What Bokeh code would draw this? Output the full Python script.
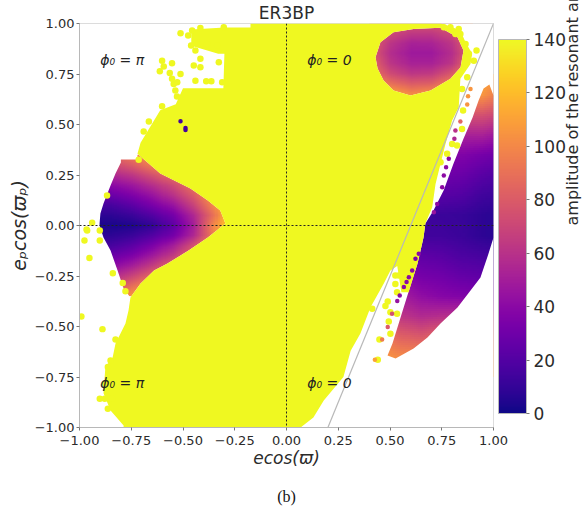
import numpy as np
from bokeh.plotting import figure
from bokeh.embed import file_html
from bokeh.resources import INLINE
from bokeh.models import (LinearColorMapper, ColorBar, FixedTicker, Range1d, Span, Title, ColumnDataSource, LinearAxis)
from bokeh.palettes import Plasma256
from bokeh.core.properties import value

ticks = [-1.0, -0.75, -0.5, -0.25, 0.0, 0.25, 0.5, 0.75, 1.0]
tick_labels = ["−1.00", "−0.75", "−0.50", "−0.25", "0.00", "0.25", "0.50", "0.75", "1.00"]
cb_ticks = [0, 20, 40, 60, 80, 100, 120, 140]

# amplitude: rows top to bottom
left_x = [-.95, -.85, -.75, -.65, -.55, -.45, -.35, -.25]
left_y = [.35, .30, .25, .20, .15, .10, .05, 0, -.05, -.10, -.15, -.20, -.25, -.30, -.35]
left_amp = [
    [85, 85, 95, 110, 125, 140, 140, 140],
    [70, 70, 80, 95, 110, 130, 140, 140],
    [55, 55, 62, 75, 90, 110, 130, 140],
    [40, 40, 47, 58, 72, 92, 120, 140],
    [28, 28, 35, 45, 60, 80, 110, 140],
    [16, 16, 23, 33, 45, 68, 100, 140],
    [8, 8, 12, 20, 32, 55, 90, 140],
    [3, 3, 4, 9, 24, 50, 100, 140],
    [8, 8, 12, 20, 32, 55, 95, 140],
    [16, 16, 23, 34, 50, 75, 110, 140],
    [28, 28, 35, 48, 65, 90, 125, 140],
    [40, 40, 50, 65, 85, 110, 140, 140],
    [55, 55, 68, 85, 105, 130, 140, 140],
    [70, 72, 88, 105, 125, 140, 140, 140],
    [85, 90, 105, 125, 140, 140, 140, 140],
]
top_x = [.40, .50, .60, .70, .80, .90]
top_y = [1.0, .95, .90, .85, .80, .75, .70, .65, .60]
top_amp = [
    [90, 80, 78, 78, 85, 100],
    [90, 72, 64, 64, 72, 95],
    [85, 62, 52, 53, 62, 88],
    [82, 58, 48, 48, 58, 85],
    [88, 62, 52, 52, 62, 92],
    [95, 72, 62, 64, 78, 105],
    [105, 90, 80, 82, 98, 120],
    [120, 112, 100, 105, 120, 135],
    [130, 125, 118, 120, 130, 140],
]
right_x = [.45, .55, .65, .75, .85, .95, 1.05]
right_y = [.75, .65, .55, .45, .35, .25, .15, .05, -.05, -.15, -.25, -.35, -.45, -.55, -.65, -.75]
right_amp = [
    [100, 100, 100, 100, 115, 115, 105],
    [90, 90, 90, 90, 105, 105, 90],
    [70, 70, 70, 70, 75, 75, 68],
    [50, 50, 50, 50, 52, 52, 45],
    [40, 40, 40, 38, 36, 32, 28],
    [35, 35, 35, 30, 28, 22, 18],
    [25, 25, 25, 22, 20, 14, 12],
    [15, 15, 13, 12, 11, 8, 6],
    [15, 15, 14, 14, 12, 8, 6],
    [28, 28, 24, 22, 18, 16, 14],
    [45, 40, 32, 30, 26, 24, 22],
    [60, 50, 42, 38, 36, 34, 32],
    [75, 62, 56, 58, 60, 60, 60],
    [95, 82, 78, 85, 85, 85, 85],
    [105, 100, 100, 100, 100, 100, 100],
    [110, 110, 110, 110, 110, 110, 110],
]

# outlines of the three low-amplitude islands
left_lobe_x = [-.80, -.72, -.72, -.61, -.464, -.38, -.32, -.295, -.38, -.473, -.575, -.64, -.705, -.754,
               -.787, -.816, -.85, -.884, -.903, -.903, -.899, -.884, -.85, -.826, -.80]
left_lobe_y = [.327, .327, .355, .257, .183, .124, .074, .01, -.06, -.124, -.188, -.223, -.287, -.356,
               -.312, -.223, -.124, -.06, 0, .01, .06, .109, .198, .257, .312]
top_lobe_x = [.43, .454, .517, .614, .744, .826, .855, .841, .792, .696, .599, .517, .469, .44]
top_lobe_y = [.833, .907, .957, .973, .979, .932, .866, .784, .726, .668, .644, .668, .718, .777]
right_lobe_x = [.671, .71, .759, .807, .855, .899, .928, .952, .98, 1.0, 1.0, 1.0, .976, .937, .889, .826,
                .744, .681, .614, .527, .488, .512, .551, .589, .633, .662]
right_lobe_y = [.01, .074, .173, .307, .43, .535, .619, .678, .698, .644, 0, -.06, -.139, -.257, -.322, -.406,
                -.485, -.554, -.609, -.658, -.644, -.584, -.455, -.33, -.188, -.06]

# outline of the saturated (yellow) region
yellow_x = [-.174, -.174, -.30, -.46, -.46, -.33, -.30, -.305, -.50, -.535, -.61, -.705, -.72,
            -.61, -.464, -.38, -.32, -.295, -.38, -.473, -.575, -.64, -.705, -.754,
            -.763, -.778, -.826, -.84, -.875, -.884, -.85, -.787, -.787, .068, .13, .18, .275, .31, .357, .406, .47,
            .502, .535, .555, .59, .633, .662, .671, .704, .72, .752, .768, .80, .832, .84, .889, .897, .865, .84, .792, .744]
yellow_y = [1.0, .98, .98, .97, .89, .85, .85, .68, .68, .60, .57, .41, .355,
            .257, .183, .124, .074, .01, -.06, -.124, -.188, -.223, -.287, -.356,
            -.42, -.485, -.584, -.653, -.70, -.83, -.916, -.99, -1.0, -1.0, -.95, -.866, -.75, -.62, -.535, -.405, -.287,
            -.223, -.20, -.33, -.33, -.188, -.06, .01, .09, .206, .338, .404, .52, .586, .726, .80, .85, .907, .965, .985, 1.0]

# isolated points
dot_x = [-.512, -.475, -.456, -.416, -.303, -.461, -.44, -.384, -.335, -.416, -.448, -.416, -.327, -.601, -.553, -.593,
         -.612, -.564, -.512, -.553, -.528, -.545, -.537, -.529, -.44, -.388, -.363, -.311, -.601, -.665, -.69, -.714,
         -.867, -.939, -.966, -.963, -.976, -.902, -.902, -.952, -.839, -.791, -.778, -.991, -.889, -.826, -.85, -.863,
         -.875, -.902, -.878, -.842, -.863,
         .76, .792, .832, .84, .816, .865, .881, .918, .905, .873, .848, .853, .848, .80, .824, .776, .744,
         .526, .526, .543, .534, .489, .478, .414, .502, .534, .494, .502, .449, .441]
dot_y = [.952, .94, .965, .978, .982, .891, .866, .899, .891, .825, .792, .784, .808, .816, .803, .787,
         .764, .755, .75, .726, .709, .701, .668, .638, .717, .714, .714, .709, .59, .515, .465, .325,
         .148, .013, -.02, -.025, -.074, -.025, -.074, -.161, -.236, -.285, -.325, -.45, -.513, -.564, -.668, -.70,
         -.783, -.858, -.858, -.858, -.907,
         .982, .982, .973, .948, .948, .899, .85, .866, .816, .734, .676, .569, .478, .404, .396, .355, .313,
         -.247, -.289, -.247, -.33, -.376, -.399, -.412, -.429, -.437, -.475, -.536, -.564, -.665]
hot_x = [.889, .877, .873, .84, .816, .811, .784, .771, .76, .752, .728, .712, .639, .623, .607, .591, .58, .567, .547,
         .535, .51, .489, .462, .427, -.512, -.488, -.488]
hot_y = [.676, .64, .599, .515, .47, .429, .33, .288, .247, .189, .107, .066, -.14, -.165, -.223, -.256, -.28, -.305,
         -.346, -.374, -.437, -.503, -.564, -.665, .516, .473, .483]
hot_amp = [105, 105, 105, 85, 60, 55, 40, 40, 40, 40, 40, 45, 40, 35, 40, 40, 40, 40, 40, 45, 75, 80, 95, 110, 15, 15, 15]

annot_x = [-.90, -.90, .10, .10]
annot_y = [.82, -.78, .82, -.78]
annot_t = ["ϕ₀ = π", "ϕ₀ = π", "ϕ₀ = 0", "ϕ₀ = 0"]

diag_x = [.2, 1.0]
diag_y = [-1.0, 1.0]

GREY = "#b8b8b8"
FONT = "DejaVu Sans"
TXT = "#2b2b2b"

p = figure(frame_width=414, frame_height=404, min_border_left=79, min_border_right=4,
           min_border_top=0, min_border_bottom=0, toolbar_location=None, output_backend="svg",
           x_range=Range1d(-1, 1), y_range=Range1d(-1, 1), background_fill_color="white",
           border_fill_color="white")
p.grid.visible = False
p.title.text = "ER3BP"
p.title.align = "center"
p.title.text_font = FONT
p.title.text_font_size = "17px"
p.title.text_font_style = "normal"
p.title.text_color = TXT
p.title.standoff = 1

mapper = LinearColorMapper(palette=Plasma256, low=0, high=140)


def amp_image(xs, ys, rows, k=10):
    # shades the read grid smoothly: the picture's gradient is continuous
    arr = np.array(rows, dtype=float)[::-1]
    sy = np.linspace(0, arr.shape[0] - 1, (arr.shape[0] - 1) * k + 1)
    sx = np.linspace(0, arr.shape[1] - 1, (arr.shape[1] - 1) * k + 1)
    by_col = np.array([np.interp(sy, np.arange(arr.shape[0]), arr[:, j]) for j in range(arr.shape[1])]).T
    fine = np.array([np.interp(sx, np.arange(arr.shape[1]), r) for r in by_col])
    p.image(image=[fine], x=xs[0], y=ys[-1], dw=xs[-1] - xs[0], dh=ys[0] - ys[-1], color_mapper=mapper)


amp_image(left_x, left_y, left_amp)
amp_image(right_x, right_y, right_amp)
amp_image(top_x, top_y, top_amp)

# white everywhere except through the islands
frame_x = [-1.1, 1.2, 1.2, -1.1]
frame_y = [-1.1, -1.1, 1.1, 1.1]
p.multi_polygons(xs=[[[frame_x, left_lobe_x, top_lobe_x, right_lobe_x]]],
                 ys=[[[frame_y, left_lobe_y, top_lobe_y, right_lobe_y]]],
                 fill_color="white", line_color=None)
p.multi_polygons(xs=[[[yellow_x, top_lobe_x]]], ys=[[[yellow_y, top_lobe_y]]],
                 fill_color=Plasma256[-1], line_color=None)
p.scatter(dot_x, dot_y, size=6.5, fill_color=Plasma256[-1], line_color=None)
hot = ColumnDataSource(dict(x=hot_x, y=hot_y, v=hot_amp))
p.scatter("x", "y", source=hot, size=4.5,
          fill_color={"field": "v", "transform": mapper}, line_color=None)

p.line(diag_x, diag_y, line_color=GREY, line_width=1.2)
for dim in ("width", "height"):
    p.add_layout(Span(location=0, dimension=dim, line_color="#222222", line_dash="2 2", line_width=1))

p.text(annot_x, annot_y, text=annot_t, text_font=value(FONT), text_font_size="14px",
       text_font_style="italic", text_color="#222222", text_baseline="middle", text_align="left")

for ax, lab in ((p.xaxis, "ecos(ϖ)"), (p.yaxis, "eₚcos(ϖₚ)")):
    ax.ticker = FixedTicker(ticks=ticks)
    ax.major_label_overrides = dict(zip(ticks, tick_labels))
    ax.axis_label = lab
    ax.axis_label_text_font = FONT
    ax.axis_label_text_font_style = "italic"
    ax.axis_label_text_font_size = "17px"
    ax.axis_label_text_color = TXT
    ax.major_label_text_font = FONT
    ax.major_label_text_font_size = "13px"
    ax.major_label_text_color = TXT
    ax.axis_line_color = GREY
    ax.major_tick_line_color = "#777777"
    ax.major_tick_out = 3
    ax.major_tick_in = 0
    ax.minor_tick_line_color = None
    ax.major_label_standoff = 2
    ax.axis_label_standoff = 2
p.xaxis.major_label_standoff = 5
p.xaxis.axis_label_standoff = 0
p.yaxis.axis_label_text_font_size = "19px"
p.outline_line_color = GREY
p.outline_line_width = 1

cb = ColorBar(color_mapper=mapper, ticker=FixedTicker(ticks=cb_ticks), width=28, height=374,
              location=(419, 14), padding=0, major_tick_out=3, major_tick_in=0, label_standoff=4,
              major_label_text_font=FONT, major_label_text_font_size="17px", major_label_text_color=TXT,
              bar_line_color=GREY, major_tick_line_color="#777777", background_fill_alpha=0,
              border_line_color=None)
p.add_layout(cb, "center")

cb_axis = LinearAxis(ticker=FixedTicker(ticks=[]), axis_line_color=None, major_tick_line_color=None,
                     minor_tick_line_color=None, axis_label="amplitude of the resonant angle (Δϕ₀)",
                     axis_label_orientation=1.5708, axis_label_standoff=79, axis_label_text_font=FONT,
                     axis_label_text_font_size="16px", axis_label_text_font_style="normal",
                     axis_label_text_color=TXT, bounds=(-.917, -.717))
p.add_layout(cb_axis, "right")
p.add_layout(Title(text="(b)", align="center", standoff=30, text_font="Liberation Serif",
                   text_font_size="16px", text_font_style="normal", text_color="#111111"), "below")

open("out.html", "w").write(file_html(p, INLINE))
